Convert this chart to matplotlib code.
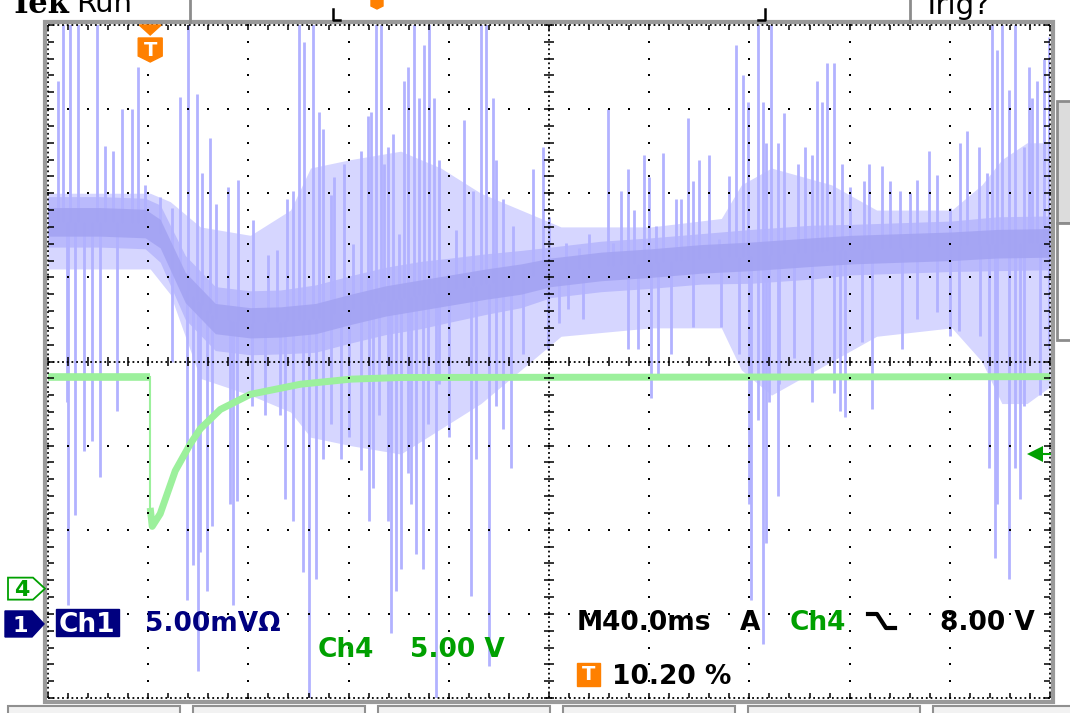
import numpy as np
import matplotlib
matplotlib.use("Agg")
import matplotlib.pyplot as plt
from matplotlib.patches import Polygon, Rectangle


# scope settings
time_per_div = 40.0     # ms/div   (M40.0ms)
trig_pos = 10.20        # % of record before trigger
ch1_scale = 5.00        # mV/div
ch4_scale = 5.00        # V/div
ch1_ground = -3.12      # div, where the "1" marker sits
ch4_ground = -2.70      # div, where the "4" marker sits
trig_level = 8.00       # V on ch4, falling edge

# ch1 : centre of the noise band (ms, mV) and its half widths (mV)
ch1_t = [-40.8, -20, -2, 4, 14, 26, 40, 52, 66, 80, 94, 108, 120, 134, 148, 160,
         180, 200, 220, 240, 264, 280, 300, 320, 338, 359.2]
ch1_mv = [23.9, 23.9, 23.8, 23.2, 20.0, 18.15, 17.9, 17.95, 18.15, 18.7, 19.2, 19.55, 19.85,
          20.2, 20.5, 20.9, 21.25, 21.45, 21.7, 21.85, 22.1, 22.25, 22.35, 22.45, 22.6, 22.65]
ch1_core = [0.85, 0.85, 0.85, 0.85, 0.9, 0.9, 0.9, 0.9, 0.9, 0.9, 0.9, 0.9, 0.9,
            0.9, 0.9, 0.85, 0.85, 0.85, 0.85, 0.85, 0.85, 0.85, 0.85, 0.85, 0.85, 0.85]
ch1_fuzz = [1.5, 1.5, 1.5, 1.7, 1.9, 1.9, 1.9, 1.9, 2.0, 2.0, 2.0, 2.0, 1.9,
            1.8, 1.7, 1.5, 1.5, 1.5, 1.5, 1.6, 1.6, 1.5, 1.5, 1.5, 1.6, 1.6]

# ch1 : extent of the dense glitch haze (ms, mV high / low)
haze_t = [-40.8, 0, 8, 20, 40, 56, 64, 80, 100, 116, 132, 148, 164, 200, 228, 236, 248,
          260, 272, 290, 320, 332, 340, 350, 359.2]
haze_hi = [25.6, 25.6, 25.1, 23.6, 23.1, 24.6, 27.1, 27.6, 28.1, 27.1, 25.6, 24.6, 23.6,
           23.6, 24.1, 26.1, 27.1, 26.6, 26.1, 24.6, 24.6, 26.1, 27.6, 28.6, 28.6]
haze_lo = [21.1, 21.1, 19.6, 14.6, 13.6, 12.6, 11.1, 10.6, 10.1, 11.6, 13.1, 15.1, 17.1,
           17.6, 17.6, 15.1, 13.6, 14.6, 15.6, 17.1, 17.6, 15.6, 13.1, 13.1, 14.1]

# ch1 glitches going up: time (ms) and tip (mV)
up_t = [-36.8, -34.8, -32.0, -28.8, -21.2, -18.0, -14.8, -11.2, -7.2, -4.8, -2.0, 4.0, 8.8, 12.0,
        15.2, 18.8, 20.8, 24.0,
        26.4, 31.2, 35.2, 41.2, 47.2, 50.8, 54.8, 57.2, 59.2, 61.2, 64.8, 67.2, 68.8, 72.0, 73.2,
        77.2, 80.8, 84.0, 86.8, 88.0, 90.0, 92.0, 93.2,
        94.8, 96.8, 99.2, 101.2, 102.8, 105.2, 107.2, 109.2, 111.2, 113.2, 115.2, 118.8, 122.0,
        125.2, 128.8, 132.0, 134.0, 136.8, 138.0, 140.8, 144.8, 148.8, 152.8, 156.8, 159.2,
        166.0, 171.2, 175.2, 182.8, 184.8, 188.0, 190.8, 193.2, 197.2, 199.2, 202.0, 204.8, 210.0,
        212.0, 214.8, 216.8, 219.2, 223.2, 227.2,
        231.2, 234.0, 236.8, 238.8, 242.8, 244.8, 246.0, 248.0, 250.8, 253.2, 258.8, 261.2, 264.0,
        266.0, 268.0, 270.0, 272.8, 276.0, 279.2, 284.8, 286.8, 292.0, 295.2,
        299.2, 303.2, 306.0, 310.8, 314.0, 319.2, 323.2, 326.0, 330.8, 334.0, 336.0, 338.0, 340.0,
        342.8, 345.2, 348.8, 350.8, 352.0, 354.0, 356.8, 358.8]
up_mv = [32.3, 36, 36, 36, 36, 28.4, 28.1, 30.6, 30.6, 33.1, 26.1, 25.4, 24.7, 31.3,
         36, 31.5, 26.8, 28.9,
         24.95, 26.0, 26.4, 24.0, 21.95, 22.2, 25.25, 25.75, 36, 34.6, 36, 30.45, 29.4, 25.5, 26.55,
         27.35, 22.6, 28.1, 30.2, 30.45, 36, 36, 27.35,
         28.35, 29.15, 23.15, 32.3, 33.1, 36, 31.25, 34.4, 36, 31.25, 27.6, 20.8, 23.4,
         29.95, 25.75, 36, 36, 31.25, 27.6, 25.25, 23.65, 21.3, 27.05, 28.35, 24.2,
         22.65, 22.35, 23.15, 30.6, 22.65, 25.75, 27.05, 24.6, 27.85, 26.55, 23.65, 28.0, 25.25,
         25.25, 30.1, 26.3, 27.6, 27.85, 22.9,
         26.6, 34.4, 32.6, 31.0, 36, 31.0, 28.6, 36, 28.6, 30.35, 27.35, 28.35, 27.85,
         32.3, 31.0, 33.35, 33.35, 27.35, 26.0, 26.3, 27.35, 27.2, 26.3,
         25.75, 25.6, 26.4, 28.1, 26.7, 24.7, 28.6, 29.3, 28.35, 26.8, 36, 34.1, 36,
         31.75, 36, 28.35, 33.1, 31.25, 32.3, 33.6, 34.9]

# ch1 glitches going down
down_t = [-33.2, -32.8, -30.0, -26.4, -23.2, -20.0, -13.2, 8.8, 14.8, 17.2, 19.2, 20.0, 22.8, 24.8,
          32.0, 33.2, 34.8, 40.8, 46.0, 52.0, 54.0, 57.2, 60.8, 63.2, 66.0, 68.8, 72.0, 76.0, 79.2,
          84.0, 87.2, 88.8, 91.2,
          94.8, 96.0, 98.0, 100.0, 102.8, 104.0, 106.0, 108.8, 110.8, 114.0, 115.2, 119.2, 128.0,
          130.0, 135.2, 138.0, 140.8, 144.0, 148.8, 158.8,
          163.2, 166.8, 172.8, 190.8, 194.8, 200.0, 202.8, 208.0, 216.8, 228.0,
          235.2, 239.2, 240.0, 242.8, 244.8, 246.0, 247.2, 250.8, 251.2, 257.2, 264.0, 272.8, 275.2,
          277.2, 284.0, 288.0,
          300.0, 306.0, 314.0, 319.2, 322.8, 331.2, 334.8, 337.2, 338.0, 342.8, 345.2, 347.2, 348.8,
          355.2, 358.8]
down_mv = [13.2, 1.15, 6.5, 10.3, 10.85, 8.75, 12.65, 15.6, 1.4, 3.5, -2.8, 4.25, 1.95, 5.85,
           7.15, 1.15, 7.3, 12.95, 12.4, 12.4, 7.45, 6.1, 3.1, -5, 2.7, 9.8, 11.9, 9.8, 11.1,
           9.15, 6.1, 8.1, 12.4,
           6.1, -0.55, 1.95, 3.25, 9.0, 7.15, 4.15, 3.25, 11.9, -5, 14.25, 11.1, 1.65,
           9.8, -2.5, 12.95, 11.6, 9.25, 16.05, 16.3,
           17.9, 18.7, 18.15, 16.35, 16.35, 13.45, 14.65, 16.05, 17.65, 17.65,
           16.05, 7.15, 1.4, 12.15, -1.2, 4.8, 13.2, 7.6, 14.25, 15.8, 13.2, 13.7, 12.65,
           12.3, 16.75, 12.8,
           16.35, 18.15, 18.55, 17.1, 17.4, 17.1, 9.25, 3.9, 7.15, 2.7, 9.25, 7.45, 12.95,
           13.6, 16.35]

# ch4 : gate voltage (ms, V)
ch4_t = [-40.8, 0.0, 0.0, 0.8, 4.0, 10.0, 16.0, 20.0, 28.0, 40.0, 60.0, 80.0, 100.0, 359.2]
ch4_v = [12.55, 12.55, 4.8, 3.7, 4.45, 7.0, 8.6, 9.5, 10.65, 11.55, 12.15, 12.45, 12.55, 12.6]

W, H = 1070, 713
LEFT, RIGHT, TOP, BOTTOM = 48, 1050, 25, 698
DIV_PX = (BOTTOM - TOP) / 8.0

BLUE_CORE = "#a2a2f2"
BLUE_FUZZ = "#babafc"
BLUE_HAZE = "#d6d6ff"
BLUE_SPIKE = "#b2b2ff"
GREEN_TRACE = "#9cf09c"
GREEN_TXT = "#00a000"
NAVY = "#00007f"
ORANGE = "#ff8000"
FONT = "DejaVu Sans"


def div_px(d):
    return TOP + (4 - d) * DIV_PX


def to_div(values, scale, ground):
    return np.array(values) / scale + ground


def draw_graticule(ax, x0, x1):
    dx = (x1 - x0) / 10.0
    minor_x = np.linspace(x0, x1, 51)
    minor_y = np.linspace(-4, 4, 41)
    dot = dict(ls="none", marker="s", ms=1.5, mew=0, color="black", zorder=6, clip_on=False)
    for k in range(1, 10):
        if k == 5:
            continue
        ax.plot(np.full(minor_y.size, x0 + k * dx), minor_y, **dot)
    for j in range(-3, 4):
        if j == 0:
            continue
        ax.plot(minor_x, np.full(minor_x.size, j), **dot)
    line = dict(color="black", lw=1.3, ls=(0, (1, 1.6)), zorder=6, clip_on=False)
    xc = x0 + 5 * dx
    ax.plot([xc, xc], [-4, 4], **line)
    ax.plot([x0, x1], [0, 0], **line)
    ax.plot([x0, x0], [-4, 4], **line)
    ax.plot([x1, x1], [-4, 4], **line)
    ax.plot([x0, x1], [4, 4], **line)
    ax.plot([x0, x1], [-4, -4], **line)
    tick = dict(color="black", lw=1.1, zorder=6, clip_on=False)
    ax.hlines(minor_y, xc - 0.05 * dx, xc + 0.05 * dx, **tick)
    ax.vlines(minor_x, -0.05, 0.05, **tick)
    ax.hlines(minor_y, x0, x0 + 0.06 * dx, **tick)
    ax.hlines(minor_y, x1 - 0.06 * dx, x1, **tick)
    ax.vlines(minor_x, 3.94, 4, **tick)
    ax.vlines(minor_x, -4, -3.94, **tick)


if __name__ == '__main__':
    plt.rcParams['font.family'] = [FONT]
    fig = plt.figure(figsize=(W / 100, H / 100), dpi=100)
    fig.patch.set_facecolor("white")

    t0 = -trig_pos / 100 * 10 * time_per_div
    t1 = t0 + 10 * time_per_div

    ax = fig.add_axes([LEFT / W, 1 - BOTTOM / H, (RIGHT - LEFT) / W, (BOTTOM - TOP) / H], zorder=1)
    ax.set_xlim(t0, t1)
    ax.set_ylim(-4, 4)
    ax.axis("off")

    # ch1 in screen divisions
    c1 = to_div(ch1_mv, ch1_scale, ch1_ground)
    core = np.array(ch1_core) / ch1_scale
    fuzz = np.array(ch1_fuzz) / ch1_scale
    ax.fill_between(haze_t, to_div(haze_lo, ch1_scale, ch1_ground), to_div(haze_hi, ch1_scale, ch1_ground),
                    color=BLUE_HAZE, lw=0, zorder=2)
    ax.fill_between(ch1_t, c1 - fuzz, c1 + fuzz, color=BLUE_FUZZ, lw=0, zorder=2)
    base_up = np.interp(up_t, ch1_t, c1)
    base_dn = np.interp(down_t, ch1_t, c1)
    ax.vlines(up_t, base_up, to_div(up_mv, ch1_scale, ch1_ground), color=BLUE_SPIKE, lw=2.0, zorder=3)
    ax.vlines(down_t, base_dn, to_div(down_mv, ch1_scale, ch1_ground), color=BLUE_SPIKE, lw=2.0, zorder=3)
    ax.fill_between(ch1_t, c1 - core, c1 + core, color=BLUE_CORE, lw=0, alpha=0.85, zorder=4)

    # ch4
    c4 = to_div(ch4_v, ch4_scale, ch4_ground)
    ax.plot(ch4_t[:2], c4[:2], color=GREEN_TRACE, lw=5.5, solid_capstyle="butt", zorder=4)
    ax.plot(ch4_t[1:3], c4[1:3], color=GREEN_TRACE, lw=1.5, zorder=4)
    ax.plot(ch4_t[2:], c4[2:], color=GREEN_TRACE, lw=5, solid_capstyle="butt", zorder=4)

    draw_graticule(ax, t0, t1)

    # trigger level arrow on the right
    lvl = trig_level / ch4_scale + ch4_ground
    ax.plot([t1 - 6, t1], [lvl, lvl], color=GREEN_TXT, lw=1.5, zorder=7, clip_on=False)
    ax.plot([t1 - 6], [lvl], marker="<", ms=11, mew=0, color=GREEN_TXT, zorder=7, clip_on=False)

    # overlay in pixel units for the scope chrome
    ov = fig.add_axes([0, 0, 1, 1], zorder=3)
    ov.set_xlim(0, W)
    ov.set_ylim(H, 0)
    ov.axis("off")
    ov.patch.set_visible(False)

    ov.add_patch(Rectangle((45, 22), 1008, 680, fill=False, ec="#9a9a9a", lw=3))
    ov.plot([190, 190], [0, 22], color="#8c8c8c", lw=2)
    ov.plot([910, 910], [0, 22], color="#8c8c8c", lw=2)
    ov.plot([333, 333, 340], [9, 20, 20], color="black", lw=1.8)
    ov.plot([758, 765, 765], [20, 20, 9], color="black", lw=1.8)
    ov.add_patch(Polygon([(371, 0), (383, 0), (383, 6), (377, 9), (371, 6)], color=ORANGE))
    ov.text(10, 13, "Tek", family="DejaVu Serif", weight="bold", fontsize=22, va="baseline")
    ov.text(76, 12, "Run", fontsize=21, va="baseline")
    ov.text(922, 14, "Trig?", fontsize=21, va="baseline")

    # trigger position marker
    xt = LEFT + trig_pos / 100 * (RIGHT - LEFT)
    ov.add_patch(Polygon([(xt - 11, 25), (xt + 11, 25), (xt, 35)], color=ORANGE))
    ov.add_patch(Polygon([(xt - 12, 38), (xt + 12, 38), (xt + 12, 56), (xt, 62), (xt - 12, 56)],
                         color=ORANGE))
    ov.text(xt, 51, "T", color="white", weight="bold", fontsize=14, ha="center", va="center")

    # ground markers
    y4 = div_px(ch4_ground)
    ov.add_patch(Polygon([(8, y4 - 11), (33, y4 - 11), (45, y4), (33, y4 + 11), (8, y4 + 11)],
                         fc="white", ec=GREEN_TXT, lw=1.3))
    ov.text(22, y4 + 1, "4", color=GREEN_TXT, weight="bold", fontsize=16, ha="center", va="center")
    y1 = div_px(ch1_ground)
    ov.add_patch(Polygon([(5, y1 - 13), (32, y1 - 13), (44, y1), (32, y1 + 13), (5, y1 + 13)],
                         color=NAVY))
    ov.text(20, y1 + 2, "1", color="white", weight="bold", fontsize=16, ha="center", va="center")

    # readouts
    txt = dict(fontsize=19, weight="bold", va="baseline")
    ov.add_patch(Rectangle((56, 609), 63, 27, color=NAVY))
    ov.text(59, 632, "Ch1", color="white", **txt)
    ov.text(145, 631, "5.00mV\u03a9", color=NAVY, **txt)
    ov.text(318, 657, "Ch4", color=GREEN_TXT, **txt)
    ov.text(410, 657, "5.00 V", color=GREEN_TXT, **txt)
    ov.text(577, 630, "M40.0ms", color="black", **txt)
    ov.text(740, 630, "A", color="black", **txt)
    ov.text(790, 630, "Ch4", color=GREEN_TXT, **txt)
    ov.plot([868, 877, 886, 895], [614, 614, 628, 628], color="black", lw=3)
    ov.text(940, 630, "8.00 V", color="black", **txt)
    ov.add_patch(Rectangle((577, 663), 23, 23, color=ORANGE))
    ov.text(588.5, 675, "T", color="white", weight="bold", fontsize=14, ha="center", va="center")
    ov.text(612, 684, "10.20 %", color="black", **txt)

    # right side scroll box and bottom menu tabs
    ov.add_patch(Rectangle((1057, 101), 16, 122, fc="#dcdcdc", ec="#8c8c8c", lw=2))
    ov.add_patch(Rectangle((1057, 223), 16, 117, fc="white", ec="#8c8c8c", lw=2))
    for k in range(6):
        ov.add_patch(Rectangle((8 + 185 * k, 706), 172, 12, fc="#f2f2f2", ec="#909090", lw=1.5))

    fig.savefig("out.png", dpi=100)
